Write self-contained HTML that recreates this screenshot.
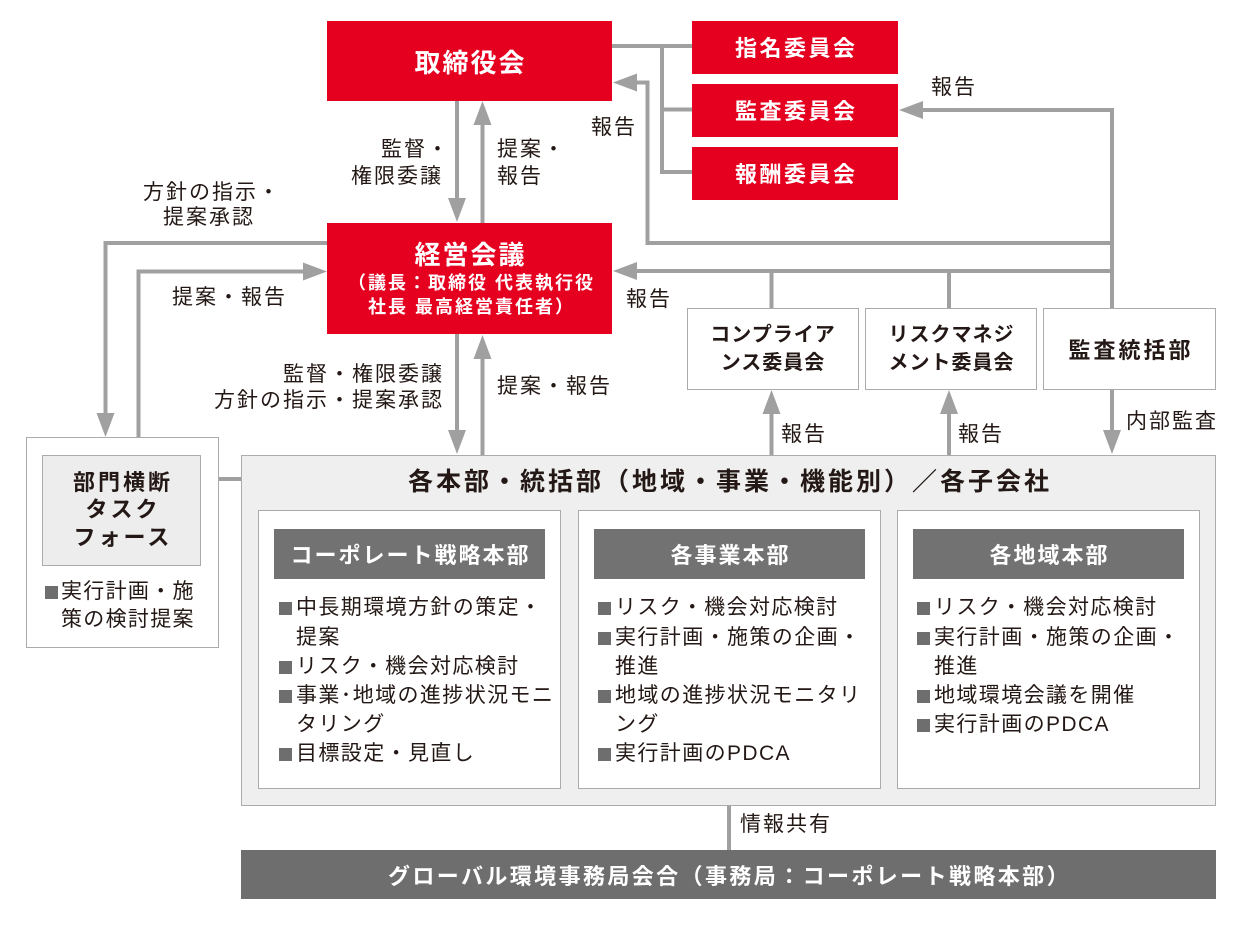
<!DOCTYPE html>
<html lang="ja">
<head>
<meta charset="utf-8">
<style>
  html,body{margin:0;padding:0;background:#fff;}
  #c{position:relative;width:1260px;height:943px;overflow:hidden;background:#fff;
     font-family:"Liberation Sans","Noto Sans CJK JP",sans-serif;color:#231815;}
  .a{position:absolute;box-sizing:border-box;}
  .t{position:absolute;white-space:nowrap;font-size:21px;letter-spacing:2px;line-height:24px;color:#231815;}
  .red{background:#e50020;color:#fff;font-weight:700;}
  .wbox{background:#fff;border:1.5px solid #ababab;}
  .cen{display:flex;align-items:center;justify-content:center;text-align:center;}
  .hdr{background:#727272;color:#fff;font-size:22px;letter-spacing:2px;font-weight:700;}
  .list{position:absolute;font-size:21px;letter-spacing:1.4px;white-space:nowrap;color:#231815;}
  .ln{position:relative;height:29.2px;line-height:29.2px;padding-left:17px;}
  .ln i{position:absolute;left:0;top:9px;width:13px;height:13px;background:#6e6e6e;}
  svg{position:absolute;left:0;top:0;}
</style>
</head>
<body>
<div id="c">

<!-- connectors -->
<svg width="1260" height="943" viewBox="0 0 1260 943">
  <g stroke="#a0a0a0" stroke-width="4" fill="none" stroke-linejoin="miter">
    <path d="M612 46 H692"/>
    <path d="M662 46 V172 H692"/>
    <path d="M662 109.5 H692"/>
    <path d="M637 82.5 H647.5 V243 H1112"/>
    <path d="M923 110 H1112 V308"/>
    <path d="M637 271 H1112"/>
    <path d="M771.5 271 V308"/>
    <path d="M949 271 V308"/>
    <path d="M457 101 V199"/>
    <path d="M482.5 124 V223"/>
    <path d="M327 243 H105.5 V414"/>
    <path d="M138.5 437 V271.5 H304"/>
    <path d="M457 334 V431"/>
    <path d="M482.5 358 V455"/>
    <path d="M771.5 413 V455"/>
    <path d="M949 413 V455"/>
    <path d="M1112 390 V431"/>
    <path d="M219 479 H241"/>
    <path d="M729 806 V850"/>
  </g>
  <g fill="#a0a0a0">
    <polygon points="613,82.5 637,73.5 637,91.5"/>
    <polygon points="899,110 923,101 923,119"/>
    <polygon points="613,271 637,262 637,280"/>
    <polygon points="457,222 448,198 466,198"/>
    <polygon points="482.5,101 473.5,125 491.5,125"/>
    <polygon points="105.5,437 96.5,413 114.5,413"/>
    <polygon points="327,271.5 303,262.5 303,280.5"/>
    <polygon points="457,454 448,430 466,430"/>
    <polygon points="482.5,335 473.5,359 491.5,359"/>
    <polygon points="771.5,390 762.5,414 780.5,414"/>
    <polygon points="949,390 940,414 958,414"/>
    <polygon points="1112,454 1103,430 1121,430"/>
  </g>
</svg>

<!-- 取締役会 -->
<div class="a red cen" style="left:327px;top:21px;width:285px;height:80px;font-size:26px;letter-spacing:2px;padding-left:2px;">取締役会</div>

<!-- committees -->
<div class="a red cen" style="left:692px;top:20.5px;width:206px;height:53px;font-size:22px;letter-spacing:2.5px;padding-left:2.5px;">指名委員会</div>
<div class="a red cen" style="left:692px;top:83.5px;width:206px;height:53px;font-size:22px;letter-spacing:2.5px;padding-left:2.5px;">監査委員会</div>
<div class="a red cen" style="left:692px;top:147px;width:206px;height:52.5px;font-size:22px;letter-spacing:2.5px;padding-left:2.5px;">報酬委員会</div>

<!-- 経営会議 -->
<div class="a red" style="left:327px;top:223px;width:285px;height:111px;"></div>
<div class="t" style="left:327px;width:285px;text-align:center;top:237px;line-height:36px;font-size:26px;letter-spacing:2px;padding-left:2px;box-sizing:border-box;color:#fff;font-weight:700;">経営会議</div>
<div class="t" style="left:327px;width:285px;text-align:center;top:271px;line-height:24px;font-size:18px;letter-spacing:2px;padding-left:4px;box-sizing:border-box;color:#fff;font-weight:700;">（議長：取締役 代表執行役</div>
<div class="t" style="left:327px;width:285px;text-align:center;top:294.5px;line-height:24px;font-size:18px;letter-spacing:2px;padding-left:4px;box-sizing:border-box;color:#fff;font-weight:700;">社長 最高経営責任者）</div>

<!-- labels -->
<div class="t" style="left:381px;top:138px;">監督・</div>
<div class="t" style="left:351px;top:164.5px;">権限委譲</div>
<div class="t" style="left:497px;top:138px;">提案・</div>
<div class="t" style="left:497px;top:164.5px;">報告</div>
<div class="t" style="left:591px;top:116px;">報告</div>
<div class="t" style="left:931px;top:76px;">報告</div>
<div class="t" style="left:626px;top:288px;">報告</div>
<div class="t" style="left:143px;top:181px;">方針の指示・</div>
<div class="t" style="left:163px;top:206px;">提案承認</div>
<div class="t" style="left:172px;top:286px;">提案・報告</div>
<div class="t" style="left:283px;top:363px;">監督・権限委譲</div>
<div class="t" style="left:214px;top:388.5px;">方針の指示・提案承認</div>
<div class="t" style="left:497px;top:374.5px;">提案・報告</div>
<div class="t" style="left:781px;top:423px;">報告</div>
<div class="t" style="left:958px;top:423px;">報告</div>
<div class="t" style="left:1126px;top:409.5px;">内部監査</div>
<div class="t" style="left:740px;top:813px;">情報共有</div>

<!-- compliance / risk / audit -->
<div class="a wbox cen" style="left:686.5px;top:308px;width:172px;height:82px;font-size:20px;letter-spacing:1px;line-height:28px;font-weight:700;padding-left:1px;">コンプライア<br>ンス委員会</div>
<div class="a wbox cen" style="left:865px;top:308px;width:172px;height:82px;font-size:20px;letter-spacing:1px;line-height:28px;font-weight:700;padding-left:1px;">リスクマネジ<br>メント委員会</div>
<div class="a wbox cen" style="left:1043px;top:308px;width:173px;height:82px;font-size:22px;letter-spacing:3px;font-weight:700;padding-left:3px;">監査統括部</div>

<!-- left task force -->
<div class="a wbox" style="left:25.5px;top:437px;width:193.5px;height:210.5px;"></div>
<div class="a cen" style="left:42px;top:454.5px;width:159px;height:111.5px;background:#ededed;border:1.5px solid #ababab;font-size:22px;letter-spacing:3px;line-height:27.7px;font-weight:700;padding-left:3px;">部門横断<br>タスク<br>フォース</div>
<div class="list" style="left:45px;top:578px;letter-spacing:1.3px;">
  <div class="ln" style="height:27.6px;line-height:27.6px;padding-left:16px;"><i style="top:8px;"></i>実行計画・施</div>
  <div class="ln" style="height:27.6px;line-height:27.6px;padding-left:16px;">策の検討提案</div>
</div>

<!-- main box -->
<div class="a" style="left:241px;top:455px;width:975px;height:351px;background:#eeefee;border:1.5px solid #ababab;"></div>
<div class="t" style="left:241px;width:975px;text-align:center;top:464px;line-height:36px;font-size:25px;letter-spacing:3px;padding-left:3px;box-sizing:border-box;font-weight:700;">各本部・統括部（地域・事業・機能別）／各子会社</div>

<!-- inner boxes -->
<div class="a wbox" style="left:258px;top:510px;width:303px;height:279px;"></div>
<div class="a wbox" style="left:578px;top:510px;width:303px;height:279px;"></div>
<div class="a wbox" style="left:897px;top:510px;width:303px;height:279px;"></div>

<div class="a hdr cen" style="left:274px;top:529px;width:271px;height:50px;padding-left:2px;">コーポレート戦略本部</div>
<div class="a hdr cen" style="left:594px;top:529px;width:271px;height:50px;padding-left:2px;">各事業本部</div>
<div class="a hdr cen" style="left:913px;top:529px;width:271px;height:50px;padding-left:2px;">各地域本部</div>

<div class="list" style="left:279px;top:593.4px;">
  <div class="ln"><i></i>中長期環境方針の策定・</div>
  <div class="ln">提案</div>
  <div class="ln"><i></i>リスク・機会対応検討</div>
  <div class="ln"><i></i>事業･地域の進捗状況モニ</div>
  <div class="ln">タリング</div>
  <div class="ln"><i></i>目標設定・見直し</div>
</div>
<div class="list" style="left:598px;top:593.4px;">
  <div class="ln"><i></i>リスク・機会対応検討</div>
  <div class="ln"><i></i>実行計画・施策の企画・</div>
  <div class="ln">推進</div>
  <div class="ln"><i></i>地域の進捗状況モニタリ</div>
  <div class="ln">ング</div>
  <div class="ln"><i></i>実行計画のPDCA</div>
</div>
<div class="list" style="left:917px;top:593.4px;">
  <div class="ln"><i></i>リスク・機会対応検討</div>
  <div class="ln"><i></i>実行計画・施策の企画・</div>
  <div class="ln">推進</div>
  <div class="ln"><i></i>地域環境会議を開催</div>
  <div class="ln"><i></i>実行計画のPDCA</div>
</div>

<!-- bottom bar -->
<div class="a cen" style="left:241px;top:850px;width:975px;height:49px;background:#6e6e6e;color:#fff;font-size:22px;letter-spacing:2.4px;font-weight:700;padding-left:2px;">グローバル環境事務局会合（事務局：コーポレート戦略本部）</div>

</div>
</body>
</html>
